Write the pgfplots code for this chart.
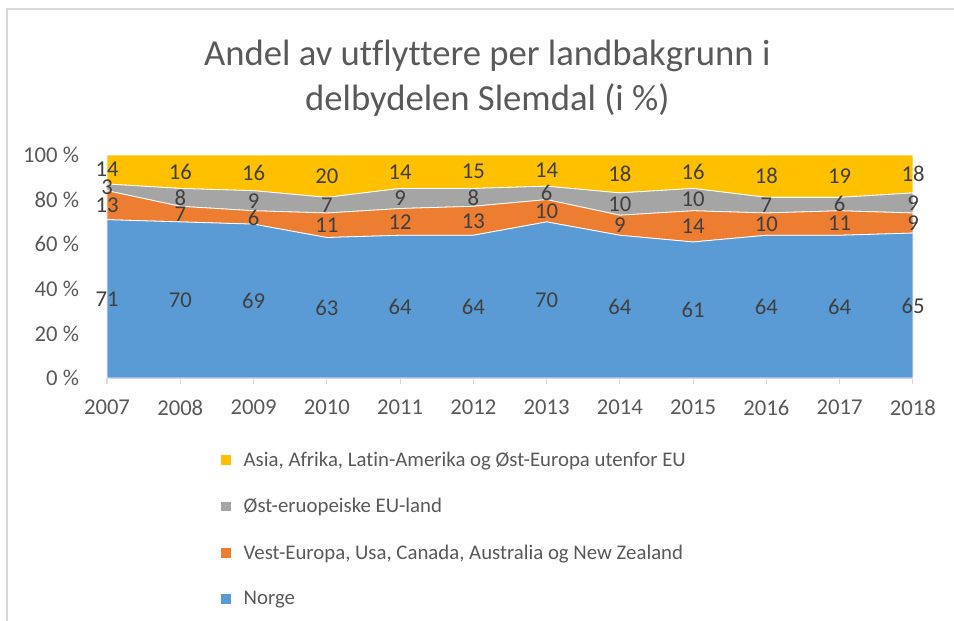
\documentclass[border=0pt]{standalone}
\usepackage{fontspec}
\setmainfont{Carlito}[Ligatures=NoCommon]
\usepackage{pgfplots}
\pgfplotsset{compat=1.18}
\usepackage{pgfplotstable}

\definecolor{cNo}{HTML}{5B9BD5}
\definecolor{cVe}{HTML}{ED7D31}
\definecolor{cOs}{HTML}{A5A5A5}
\definecolor{cAs}{HTML}{FFC000}
\definecolor{txt}{HTML}{595959}
\definecolor{lbl}{HTML}{404040}
\definecolor{frm}{HTML}{D9D9D9}

% andel i %, asp = toppserien fylt opp til 100
\pgfplotstableread{
year no ve os as asp
2007 71 13 3 14 13
2008 70 7 8 16 15
2009 69 6 9 16 16
2010 63 11 7 20 19
2011 64 12 9 14 15
2012 64 13 8 15 15
2013 70 10 6 14 14
2014 64 9 10 18 17
2015 61 14 10 16 15
2016 64 10 7 18 19
2017 64 11 6 19 19
2018 65 9 9 18 17
}\data

\begin{document}
\begin{tikzpicture}
\useasboundingbox (0,0) rectangle (715.5pt,-465.75pt);
\draw[frm, line width=1.5pt] (4.9pt,-465.75pt) -- (4.9pt,-6.4pt) -- (715.5pt,-6.4pt);
\node[align=center, text=txt, font=\fontsize{27.5}{33.75}\selectfont] at (365.5pt,-58.3pt)
  {Andel av utflyttere per landbakgrunn i\\delbydelen Slemdal (i \%)};
\begin{axis}[
    scale only axis,
    width=604.5pt, height=167.25pt,
    at={(80.25pt,-283.5pt)}, anchor=south west,
    xmin=2007, xmax=2018, ymin=0, ymax=100,
    stack plots=y, area style,
    clip=false,
    axis x line*=bottom, axis y line*=left,
    x axis line style={draw=frm, -},
    y axis line style={draw=none},
    xtick={2007,...,2018},
    ytick={0,20,...,100},
    xtick style={draw=frm, line width=0.8pt},
    ytick style={draw=none},
    tick align=outside,
    major tick length=4.5pt,
    tick label style={font=\fontsize{17}{20}\selectfont, text=txt},
    x tick label style={/pgf/number format/1000 sep={}, yshift=-8.5pt},
    y tick label style={xshift=-13pt},
    /pgf/number format/assume math mode=true,
    yticklabel={\pgfmathprintnumber{\tick}\ \%},
    every node near coord/.append style={font=\fontsize{17}{20}\selectfont, text=lbl, anchor=center},
    reverse legend,
    legend cell align=left,
    legend style={at={(0.1352,-0.305)}, anchor=north west, draw=none, fill=none,
      font=\fontsize{15.6}{19}\selectfont, text=txt, row sep=18.6pt,
      /tikz/every even column/.append style={column sep=0pt}},
    legend image code/.code={\fill[#1] (0pt,-4.1pt) rectangle (8.25pt,4.1pt); \path (15pt,0pt);},
]
\addplot[fill=cNo, draw=white, line width=0.6pt, nodes near coords, point meta=explicit,
  visualization depends on={\thisrow{no}*0.83625 \as \sh},
  every node near coord/.append style={yshift=-\sh pt}]
  table[x=year, y=no, meta=no] {\data} \closedcycle;
\addlegendentry{Norge}
\addplot[fill=cVe, draw=white, line width=0.6pt, nodes near coords, point meta=explicit,
  visualization depends on={\thisrow{ve}*0.83625 \as \sh},
  every node near coord/.append style={yshift=-\sh pt}]
  table[x=year, y=ve, meta=ve] {\data} \closedcycle;
\addlegendentry{Vest-Europa, Usa, Canada, Australia og New Zealand}
\addplot[fill=cOs, draw=white, line width=0.6pt, nodes near coords, point meta=explicit,
  visualization depends on={\thisrow{os}*0.83625 \as \sh},
  every node near coord/.append style={yshift=-\sh pt}]
  table[x=year, y=os, meta=os] {\data} \closedcycle;
\addlegendentry{Øst-eruopeiske EU-land}
\addplot[fill=cAs, draw=white, line width=0.6pt, nodes near coords, point meta=explicit,
  visualization depends on={\thisrow{asp}*0.83625 \as \sh},
  every node near coord/.append style={yshift=-\sh pt}]
  table[x=year, y=asp, meta=as] {\data} \closedcycle;
\addlegendentry{Asia, Afrika, Latin-Amerika og Øst-Europa utenfor EU}
\end{axis}
\end{tikzpicture}
\end{document}
